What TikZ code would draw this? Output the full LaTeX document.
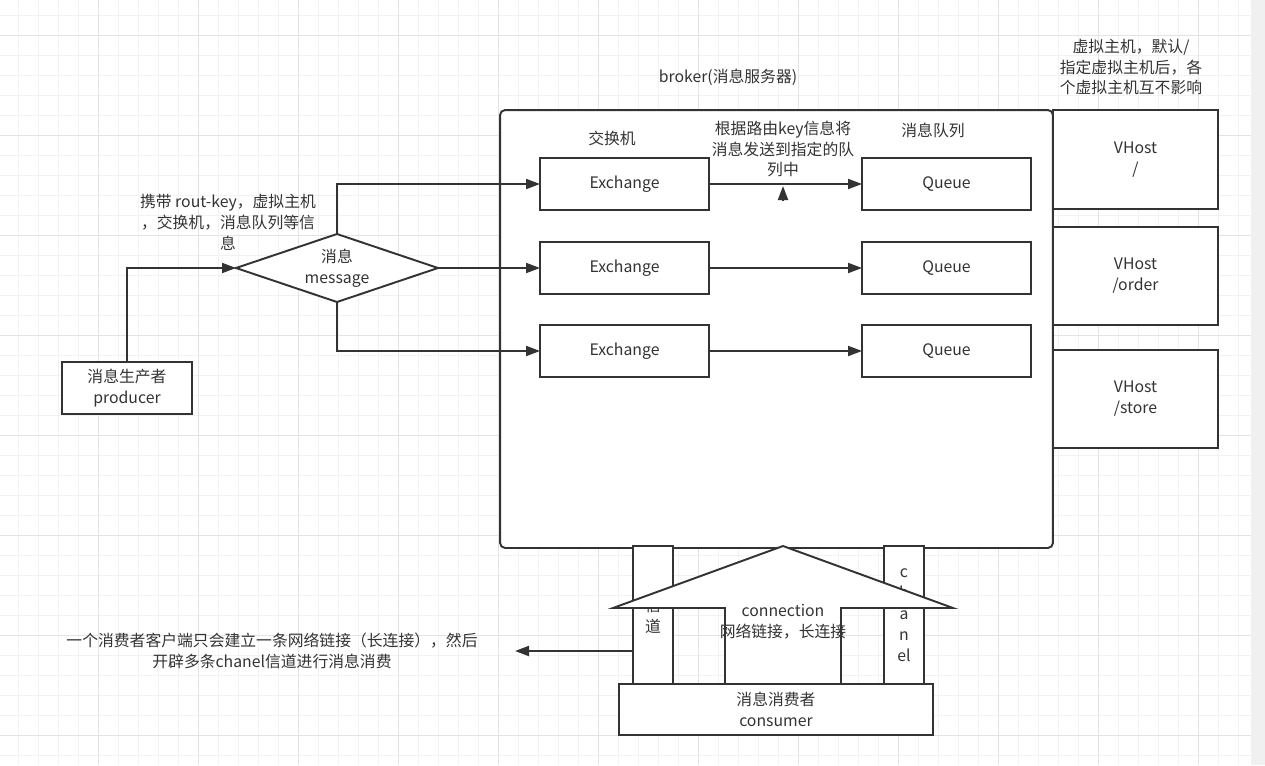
\documentclass[tikz,border=0pt]{standalone}
\usepackage{fontspec}
\setmainfont{Noto Sans CJK SC}
\usetikzlibrary{arrows.meta,shapes.geometric}
\definecolor{ink}{HTML}{333333}
\definecolor{gridminor}{HTML}{F2F2F2}
\definecolor{gridmajor}{HTML}{E3E3E3}
\definecolor{gridside}{HTML}{F0F0F0}
\tikzset{
    block/.style = {draw=ink, line width=1.1pt, fill=white, text=ink,
        align=center, inner sep=0pt, outer sep=0pt,
        font=\fontsize{9pt}{11.9pt}\selectfont},
    exbox/.style = {block, minimum width=3.38cm, minimum height=1.04cm},
    vhost/.style = {block, minimum width=3.3cm},
    chan/.style = {block, minimum width=0.8cm, minimum height=2.78cm},
    note/.style = {text=ink, align=center, inner sep=0pt,
        font=\fontsize{9pt}{11.9pt}\selectfont},
    arrow/.style = {draw=ink, line width=1.1pt,
        -{Triangle[length=0.28cm,width=0.2cm]}}
}

\begin{document}
\begin{tikzpicture}[x=0.02cm, y=-0.02cm]
    \useasboundingbox (0,0) rectangle (1265,765);
    % grid
    \foreach \gx in {18,38,...,1238} \draw[gridminor, line width=0.5pt] (\gx,0) -- (\gx,765);
    \foreach \gy in {15,35,...,755} \draw[gridminor, line width=0.5pt] (0,\gy) -- (1251,\gy);
    \foreach \gx in {98,198,...,1198} \draw[gridmajor, line width=0.5pt] (\gx,0) -- (\gx,765);
    \foreach \gy in {35,135,...,735} \draw[gridmajor, line width=0.5pt] (0,\gy) -- (1251,\gy);
    \fill[gridside] (1251,0) rectangle (1265,765);

    % broker
    \node[block, rounded corners=0.1cm, minimum width=11.06cm, minimum height=8.76cm] (broker) at (776.5,329) {};
    \node[note] (brokertxt) at (728,77) {broker(消息服务器)};
    \node[note] (extxt) at (612,138) {交换机};
    \node[note] (qtxt) at (933,130) {消息队列};
    \node[note] (routetxt) at (783,149) {根据路由key信息将\\消息发送到指定的队\\列中};

    \node[exbox] (ex1) at (624.5,184) {Exchange};
    \node[exbox] (ex2) at (624.5,268) {Exchange};
    \node[exbox] (ex3) at (624.5,351) {Exchange};
    \node[exbox] (q1) at (946.5,184) {Queue};
    \node[exbox] (q2) at (946.5,268) {Queue};
    \node[exbox] (q3) at (946.5,351) {Queue};

    % virtual hosts
    \node[vhost, minimum height=1.98cm] (vh1) at (1135.5,159.5) {VHost\\/};
    \node[vhost, minimum height=1.96cm] (vh2) at (1135.5,276) {VHost\\/order};
    \node[vhost, minimum height=1.96cm] (vh3) at (1135.5,399) {VHost\\/store};
    \node[note] (vhtxt) at (1131,67) {虚拟主机，默认/\\指定虚拟主机后，各\\个虚拟主机互不影响};

    % producer side
    \node[block, shape=diamond, aspect=3, minimum width=4.04cm, minimum height=1.36cm] (msg) at (337,268) {消息\\message};
    \node[block, minimum width=2.6cm, minimum height=1.04cm] (prod) at (127,388) {消息生产者\\producer};
    \node[note] (carry) at (228,222) {携带 rout-key，虚拟主机\\，交换机，消息队列等信\\息};

    \draw[arrow] (prod.north) |- (msg.west);
    \draw[arrow] (msg.north) |- (ex1.west);
    \draw[arrow] (msg.east) -- (ex2.west);
    \draw[arrow] (msg.south) |- (ex3.west);
    \foreach \i in {1,2,3} \draw[arrow] (ex\i.east) -- (q\i.west);
    \coordinate (markfoot) at (783,200);
    \coordinate (marktip) at (783,186);
    \draw[arrow] (markfoot) -- (marktip);

    % consumer side
    \node[chan] (ch1) at (653,615.5) {信\\道};
    \node[chan] (ch2) at (904,615.5) {c\\h\\a\\n\\el};
    \draw[ink, line width=1.1pt, fill=white] (725,685) -- (725,608) -- (613,608) -- (783,546)
        -- (953,608) -- (841,608) -- (841,685) -- cycle;
    \node[note] (conn) at (783,622) {connection\\网络链接，长连接};
    \node[block, minimum width=6.28cm, minimum height=1.02cm] (cons) at (776,709.5) {消息消费者\\consumer};

    \coordinate (left) at (515,651);
    \draw[arrow] (ch1.west |- left) -- (left);
    \node[note] (conntxt) at (272,651) {一个消费者客户端只会建立一条网络链接（长连接），然后\\开辟多条chanel信道进行消息消费};
\end{tikzpicture}
\end{document}
